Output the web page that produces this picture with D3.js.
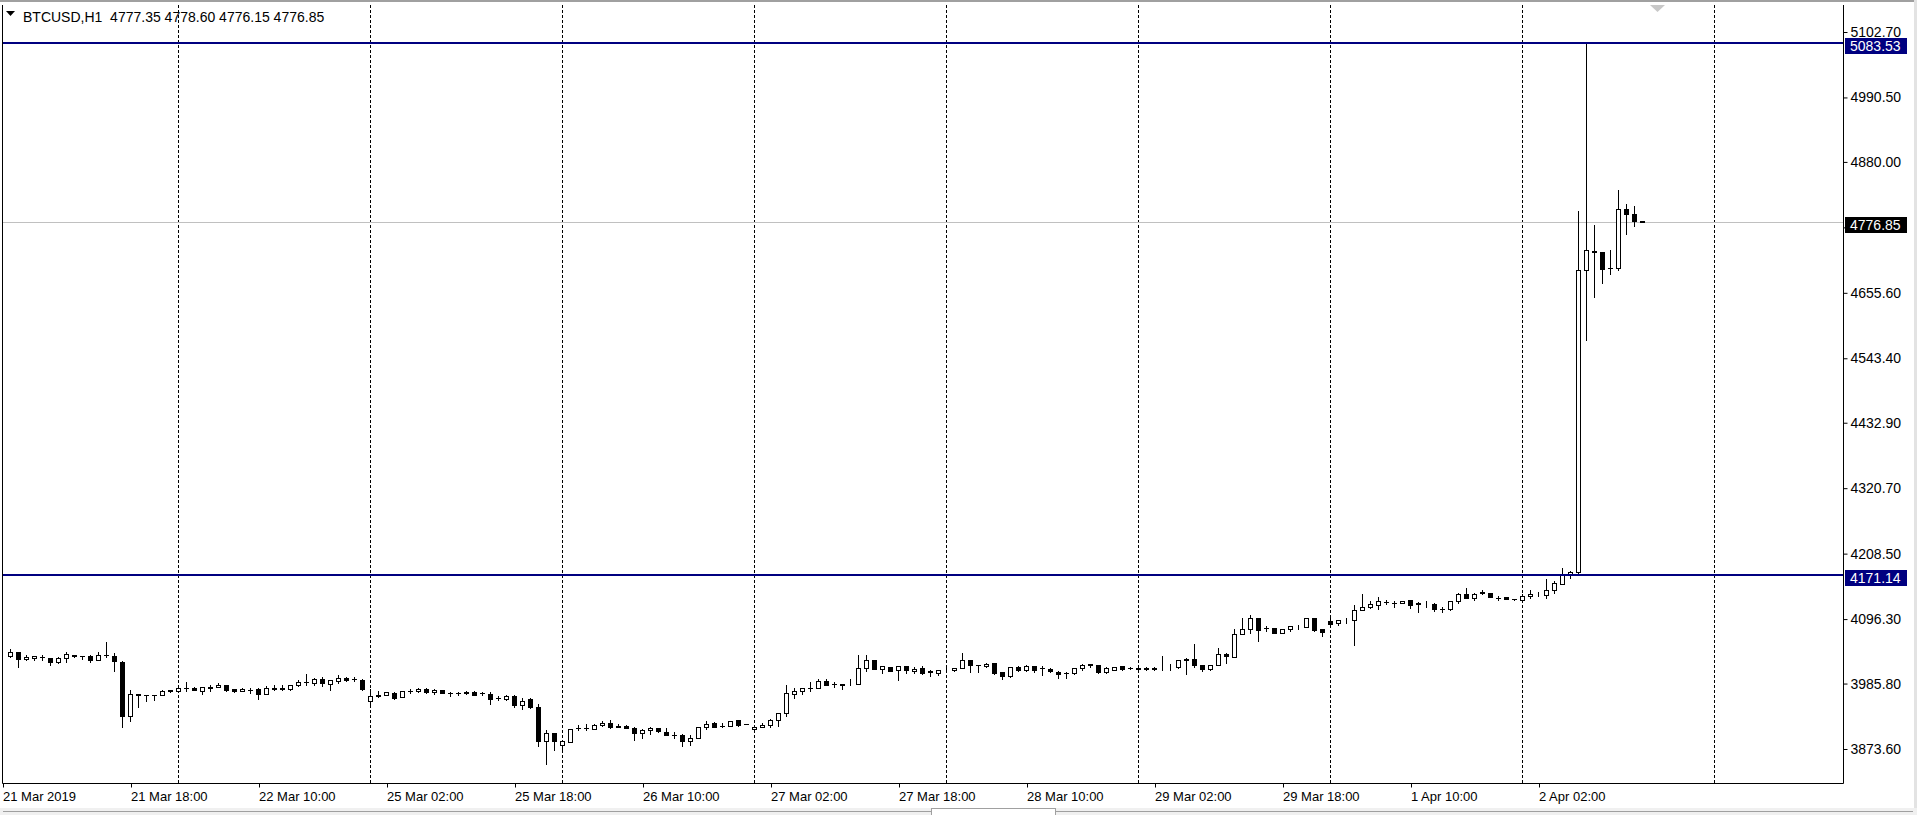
<!DOCTYPE html>
<html><head><meta charset="utf-8">
<script src="https://cdn.jsdelivr.net/npm/d3@7"></script>
<style>html,body{margin:0;padding:0;background:#fff;overflow:hidden}svg{display:block}</style>
</head><body>
<svg id="c" width="1917" height="815"></svg>
<script>
// ---- DATA (BTCUSD H1, 21 Mar 2019 02:00 .. 2 Apr 2019 15:00) ----
const symbolLabel = "BTCUSD,H1";
const lastBarOHLC = [4777.35, 4778.60, 4776.15, 4776.85];
const opens = [4033.5,4032.4,4039.3,4026.7,4029.0,4030.1,4029.0,4021.5,4029.0,4034.1,4031.8,4031.8,4026.1,4034.1,4033.0,4022.7,3930.1,3967.3,3965.0,3965.0,
3965.0,3974.1,3973.0,3977.5,3977.5,3973.0,3979.3,3979.3,3983.3,3975.8,3972.4,3973.5,3975.3,3967.8,3977.5,3977.5,3975.8,3982.7,3988.4,3985.5,
3993.0,3984.4,3989.0,3994.1,3993.0,3991.8,3954.7,3966.1,3966.1,3969.0,3962.7,3971.8,3971.8,3975.8,3970.7,3973.5,3969.5,3969.5,3971.3,3971.3,
3968.4,3967.8,3959.8,3958.7,3964.4,3947.8,3957.6,3945.0,3886.2,3900.5,3879.9,3884.5,3908.5,3908.5,3907.3,3914.2,3917.6,3913.0,3913.0,3909.0,
3900.5,3904.5,3909.0,3902.2,3897.0,3897.0,3886.2,3891.9,3910.8,3916.5,3913.0,3913.0,3921.6,3915.9,3907.3,3910.8,3913.6,3922.8,3934.7,3967.3,
3972.5,3977.0,3977.6,3989.0,3984.5,3984.5,3984.5,3984.5,4011.9,4024.5,4010.2,4013.6,4008.5,4014.2,4006.7,4011.3,4005.6,4003.3,4007.9,4007.9,
4011.3,4025.6,4017.0,4015.3,4019.9,4003.9,3997.6,4013.6,4008.5,4014.2,4011.9,4010.2,4005.0,4003.3,4002.2,4011.9,4017.6,4017.0,4005.0,4009.0,
4014.2,4011.3,4010.8,4010.8,4011.9,4012.5,4012.5,4013.6,4026.2,4026.2,4017.0,4010.2,4016.5,4035.9,4031.3,4069.6,4078.2,4097.6,4081.0,4080.5,
4071.9,4078.7,4082.2,4082.7,4097.6,4078.2,4093.0,4089.0,4093.6,4093.6,4110.7,4116.5,4119.9,4125.0,4123.3,4122.2,4127.9,4122.2,4122.2,4120.5,
4113.0,4111.9,4126.7,4138.2,4131.3,4142.2,4139.9,4131.9,4133.0,4130.7,4128.5,4134.7,4138.2,4135.9,4144.9,4155.8,4171.8,4175.8,4694.6,4726.6,
4725.5,4697.5,4697.5,4798.6,4790.6,4777.35];
const highs = [4036.4,4044.4,4039.3,4034.1,4032.4,4033.5,4029.0,4030.7,4038.7,4034.1,4032.4,4033.5,4039.3,4057.0,4037.5,4024.4,3974.7,3967.3,3965.0,3965.6,
3974.7,3974.1,3982.1,3987.8,3978.7,3979.3,3982.1,3985.5,3983.3,3975.8,3977.0,3977.0,3977.0,3981.5,3982.7,3982.7,3983.3,3991.8,4001.0,3995.3,
3996.4,3991.8,4000.4,3996.4,3995.8,3993.0,3975.8,3973.0,3971.3,3970.1,3973.0,3975.8,3977.0,3977.0,3975.3,3973.5,3970.1,3970.7,3973.0,3971.8,
3971.3,3970.1,3964.4,3965.0,3966.1,3960.4,3960.5,3949.6,3904.5,3900.5,3889.0,3907.3,3914.7,3915.9,3915.9,3919.9,3923.3,3915.9,3914.7,3910.2,
3906.2,3910.8,3909.0,3907.9,3901.6,3898.8,3895.9,3910.8,3921.0,3919.3,3916.5,3921.0,3923.3,3915.9,3913.6,3917.0,3925.0,3934.7,3981.6,3977.0,
3977.6,3987.9,3993.0,3993.0,3987.3,3984.5,3993.0,4034.7,4034.7,4025.6,4014.7,4013.6,4015.3,4015.3,4013.0,4014.2,4009.0,4008.5,4013.0,4011.9,
4037.6,4025.6,4017.0,4019.9,4021.0,4003.9,4013.6,4014.7,4015.9,4014.7,4014.8,4011.3,4007.3,4004.5,4011.9,4018.2,4019.3,4017.0,4013.6,4013.6,
4015.3,4012.5,4014.8,4012.5,4013.6,4033.0,4018.2,4025.0,4027.9,4051.9,4017.0,4017.0,4046.2,4037.6,4077.6,4097.6,4101.6,4097.6,4083.9,4080.5,
4078.7,4083.3,4085.0,4097.0,4097.6,4079.3,4097.6,4093.6,4097.0,4119.9,4137.6,4125.6,4133.6,4128.5,4125.6,4126.7,4129.0,4124.5,4126.2,4123.3,
4115.9,4126.7,4141.0,4149.0,4140.5,4145.0,4140.5,4135.3,4133.0,4130.7,4137.6,4145.0,4142.7,4165.0,4160.4,4182.6,4177.5,4795.8,5083.53,4771.8,
4725.5,4728.9,4831.8,4807.8,4804.3,4778.60];
const lows = [4020.4,4030.1,4013.0,4026.1,4025.0,4025.0,4016.4,4020.4,4021.5,4030.7,4027.8,4022.7,4025.5,4030.7,4006.1,3910.1,3920.4,3944.4,3954.7,3957.5,
3965.0,3970.1,3973.0,3973.0,3973.5,3967.8,3973.0,3978.7,3973.0,3970.1,3971.8,3969.0,3959.3,3967.3,3973.5,3973.5,3973.5,3980.4,3982.1,3982.7,
3981.5,3974.7,3985.5,3989.5,3989.5,3973.5,3950.7,3961.5,3965.6,3959.3,3962.1,3969.0,3971.3,3969.0,3967.8,3969.0,3963.3,3965.0,3967.3,3965.0,
3965.0,3950.1,3957.0,3956.4,3944.4,3941.5,3942.7,3877.6,3846.2,3870.8,3869.0,3884.5,3904.5,3904.5,3907.3,3913.0,3908.5,3910.2,3908.5,3887.9,
3891.9,3898.8,3901.6,3897.0,3891.9,3877.6,3879.9,3891.9,3906.2,3910.2,3910.2,3913.0,3913.0,3915.3,3906.2,3909.6,3910.8,3911.9,3929.0,3959.9,
3967.3,3971.9,3977.6,3982.2,3979.3,3975.3,3981.6,3984.5,4006.7,4010.2,4003.3,4005.6,3991.3,4003.3,4002.2,4001.6,3998.7,3999.9,4004.5,4006.7,
4011.3,4004.5,4004.5,4012.5,4001.0,3993.0,3996.5,4007.3,4005.6,4004.5,3999.3,4004.5,3994.8,3995.3,4001.6,4008.5,4013.0,4002.8,4002.2,4008.5,
4008.5,4010.2,4007.3,4009.0,4009.0,4008.5,4008.5,4011.9,4001.0,4013.6,4006.2,4009.0,4016.5,4019.9,4031.3,4069.6,4071.3,4057.6,4074.8,4071.9,
4071.9,4074.2,4078.2,4082.7,4074.2,4067.3,4087.3,4085.0,4089.0,4050.2,4110.7,4115.3,4112.5,4120.5,4117.0,4122.2,4114.2,4107.3,4116.5,4109.0,
4107.3,4110.7,4123.3,4131.3,4129.0,4137.6,4133.0,4128.5,4130.7,4129.0,4126.2,4131.9,4134.7,4131.9,4140.4,4155.8,4165.5,4171.14,4574.6,4647.2,
4671.2,4686.6,4693.5,4755.2,4768.9,4776.15];
const closes = [4034.7,4039.3,4027.3,4030.7,4032.4,4029.8,4021.5,4029.0,4035.8,4032.4,4031.5,4025.5,4034.7,4033.8,4023.8,3929.0,3967.3,3966.1,3964.7,3964.7,
3972.4,3972.4,3977.5,3977.3,3974.1,3979.3,3977.5,3983.3,3973.5,3971.8,3975.8,3973.3,3967.3,3977.5,3976.4,3976.4,3983.3,3988.4,3988.1,3993.0,
3985.5,3991.3,3995.3,3991.8,3992.7,3975.8,3964.4,3963.3,3970.1,3960.4,3971.8,3971.5,3975.8,3970.1,3974.7,3969.0,3969.2,3969.2,3969.5,3966.1,
3968.1,3958.7,3959.5,3964.4,3947.8,3955.3,3944.5,3886.2,3900.5,3886.2,3885.6,3907.3,3908.2,3908.2,3914.2,3917.6,3910.2,3910.2,3908.5,3900.5,
3904.5,3909.0,3903.3,3897.0,3896.7,3886.2,3891.3,3910.8,3915.9,3911.3,3912.7,3921.0,3914.7,3915.6,3911.3,3914.7,3922.8,3934.7,3967.9,3972.5,
3977.6,3976.7,3989.6,3982.2,3984.2,3982.7,3984.8,4011.9,4025.6,4010.7,4014.2,4007.3,4014.2,4007.9,4010.7,4002.7,4005.3,4008.5,4008.2,4011.9,
4025.6,4016.5,4015.9,4018.7,4002.7,3998.2,4013.6,4008.5,4014.7,4008.5,4011.6,4005.6,4001.6,4003.0,4011.9,4015.9,4015.9,4004.5,4011.3,4013.6,
4009.6,4011.0,4010.5,4010.5,4010.2,4012.8,4012.8,4025.0,4025.6,4015.9,4010.2,4016.5,4035.9,4031.9,4070.7,4079.3,4097.0,4077.0,4080.7,4071.9,
4078.7,4083.3,4082.5,4097.0,4075.9,4072.5,4087.3,4093.6,4093.9,4110.7,4116.5,4121.6,4126.2,4124.7,4123.0,4126.7,4119.3,4121.9,4122.5,4113.0,
4112.7,4126.7,4138.2,4131.3,4138.7,4139.9,4133.0,4131.6,4130.7,4129.6,4135.3,4138.2,4138.5,4145.0,4157.5,4170.6,4176.3,4694.6,4728.3,4724.3,
4695.2,4697.0,4798.6,4790.0,4777.0,4776.85];

const priceTicks = [5102.70,4990.50,4880.00,4767.80,4655.60,4543.40,4432.90,4320.70,4208.50,4096.30,3985.80,3873.60];
const timeTickBars = [0,16,32,48,64,80,96,112,128,144,160,176,192];
const timeTickLabels = ["21 Mar 2019","21 Mar 18:00","22 Mar 10:00","25 Mar 02:00","25 Mar 18:00","26 Mar 10:00",
  "27 Mar 02:00","27 Mar 18:00","28 Mar 10:00","29 Mar 02:00","29 Mar 18:00","1 Apr 10:00","2 Apr 02:00"];
const dayBreakBars = [22,46,70,94,118,142,166,190,214];
const levelLines = [5083.53, 4171.14];
const lastPrice = 4776.85;

// ---- LAYOUT ----
const W = 1917, H = 815;
const L = 2, R = 1843, T = 5, B = 783;
const FONT = "'Liberation Sans', Arial, sans-serif";
const svg = d3.select("#c");

const x = d3.scaleLinear().domain([0, 230]).range([2.5, 1842.5]);
const y = d3.scaleLinear().domain([3873.6, 5102.7]).range([748.5, 31.5]);
const px = v => Math.round(y(v));

// window frame bits
svg.append("rect").attr("x",0).attr("y",0).attr("width",W).attr("height",2).attr("fill","#a0a0a0");
svg.append("rect").attr("x",1914).attr("y",0).attr("width",3).attr("height",H).attr("fill","#e3e3e3");
svg.append("rect").attr("x",0).attr("y",808).attr("width",W).attr("height",7).attr("fill","#f0f0f0");
svg.append("line").attr("x1",3).attr("x2",931).attr("y1",811.5).attr("y2",811.5).attr("stroke","#a0a0a0");
svg.append("line").attr("x1",1056).attr("x2",1913).attr("y1",811.5).attr("y2",811.5).attr("stroke","#a0a0a0");
svg.append("rect").attr("x",931.5).attr("y",808.5).attr("width",124).attr("height",8).attr("fill","#fff").attr("stroke","#a0a0a0");

svg.append("defs").append("clipPath").attr("id","plot")
  .append("rect").attr("x",L).attr("y",T).attr("width",R-L).attr("height",B-T);
const plot = svg.append("g").attr("clip-path","url(#plot)");

// day separators (dashed grid)
plot.selectAll("line.grid").data(dayBreakBars).join("line").attr("class","grid")
  .attr("x1",d=>Math.floor(x(d))+0.5).attr("x2",d=>Math.floor(x(d))+0.5)
  .attr("y1",T).attr("y2",B).attr("stroke","#000").attr("stroke-width",1).attr("stroke-dasharray","3,2");

// last price line
plot.append("line").attr("x1",L).attr("x2",R).attr("y1",px(lastPrice)+0.5).attr("y2",px(lastPrice)+0.5)
  .attr("stroke","#c0c0c0").attr("stroke-width",1);

// candles
const bars = d3.range(opens.length).map(i => ({i, o:opens[i], h:highs[i], l:lows[i], c:closes[i]}));
const cg = plot.append("g");
cg.selectAll("line.wick").data(bars).join("line").attr("class","wick")
  .attr("x1",d=>Math.floor(x(d.i))+0.5).attr("x2",d=>Math.floor(x(d.i))+0.5)
  .attr("y1",d=>px(d.h)).attr("y2",d=>px(d.l)+1).attr("stroke","#000").attr("stroke-width",1);
cg.selectAll("rect.body").data(bars).join("rect").attr("class","body")
  .each(function(d){
    const xc = Math.floor(x(d.i));
    const top = px(Math.max(d.o,d.c)), bot = px(Math.min(d.o,d.c));
    const s = d3.select(this);
    if (d.c > d.o) {
      s.attr("x",xc-2+0.5).attr("y",top+0.5).attr("width",4).attr("height",Math.max(bot-top,0))
       .attr("fill","#fff").attr("stroke","#000").attr("stroke-width",1);
    } else {
      s.attr("x",xc-2).attr("y",top).attr("width",5).attr("height",Math.max(bot-top,0)+1)
       .attr("fill","#000");
    }
  });

// level lines
plot.selectAll("line.lvl").data(levelLines).join("line").attr("class","lvl")
  .attr("x1",L).attr("x2",R).attr("y1",d=>px(d)).attr("y2",d=>px(d))
  .attr("stroke","#000080").attr("stroke-width",2);

// frame
svg.append("path").attr("d",`M${L+0.5},${T} V${B+0.5} H${R+0.5} V${T}`).attr("fill","none").attr("stroke","#000");

// price axis
const ya = svg.append("g").attr("transform",`translate(${R+0.5},0.5)`)
  .call(d3.axisRight(y).tickValues(priceTicks).tickSize(4).tickPadding(3).tickFormat(d3.format(".2f")));
ya.select(".domain").remove();
ya.selectAll("line").attr("stroke","#000");
ya.selectAll("text").attr("fill","#000").style("font-family",FONT).style("font-size","14px");

// time axis
const xa = svg.append("g").attr("transform",`translate(0.5,${B+0.5})`)
  .call(d3.axisBottom(x).tickValues(timeTickBars).tickSize(4).tickPadding(4).tickFormat((d,i)=>timeTickLabels[i]));
xa.select(".domain").remove();
xa.selectAll("line").attr("stroke","#000");
xa.selectAll("text").attr("fill","#000").attr("text-anchor","start").attr("x",-0.5)
  .style("font-family",FONT).style("font-size","13px");

// price labels on axis
const tags = [{v:levelLines[0], bg:"#000080"},{v:levelLines[1], bg:"#000080"},{v:lastPrice, bg:"#000"}];
const tg = svg.append("g").selectAll("g").data(tags).join("g");
tg.append("rect").attr("x",1845).attr("y",d=>px(d.v)-5).attr("width",62).attr("height",16).attr("fill",d=>d.bg);
tg.append("text").attr("x",1850).attr("y",d=>px(d.v)+8).attr("fill","#fff")
  .style("font-family",FONT).style("font-size","14px").text(d=>d3.format(".2f")(d.v));

// header
svg.append("path").attr("d","M6,11 L15,11 L10.5,16 Z").attr("fill","#000");
svg.append("text").attr("x",23).attr("y",22).attr("fill","#000").attr("xml:space","preserve")
  .style("white-space","pre").style("font-family",FONT).style("font-size","14px")
  .text(symbolLabel + "  " + lastBarOHLC.map(d3.format(".2f")).join(" "));

// chart shift marker
svg.append("path").attr("d","M1650,5 L1665,5 L1657.5,12 Z").attr("fill","#c8c8c8");
</script>
</body></html>
